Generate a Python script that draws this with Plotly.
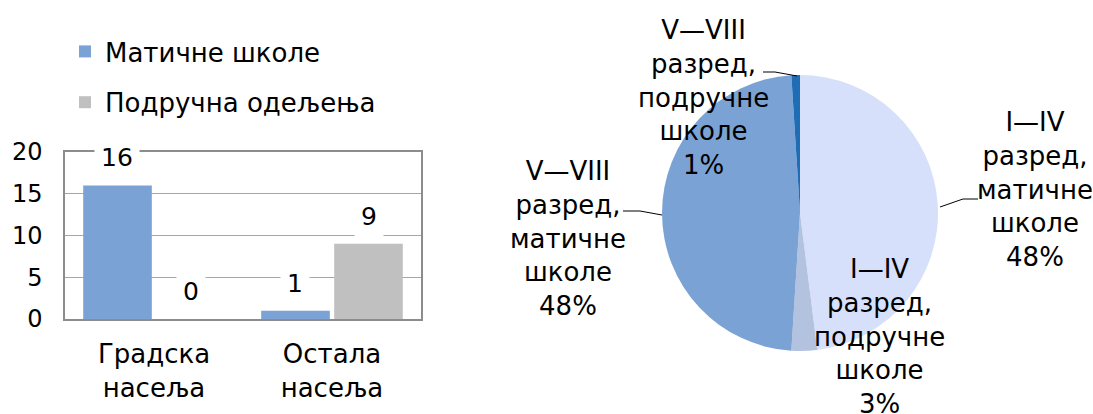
import plotly.graph_objects as go

# ---- bar chart data ----
categories = ["Градска<br>насеља", "Остала<br>насеља"]
series_names = ["Матичне школе", "Подручна одељења"]
maticne = [16, 1]
podrucna = [0, 9]
bar_colors = ["#7BA2D4", "#C0C0C0"]
y_ticks = [0, 5, 10, 15, 20]

# ---- pie chart data ----
pie_labels = ["I–IV разред, матичне школе", "I–IV разред, подручне школе",
              "V–VIII разред, матичне школе", "V–VIII разред, подручне школе"]
pie_values = [48, 3, 48, 1]
pie_colors = ["#D6E0FA", "#B3C3DF", "#7BA2D4", "#1F6DB4"]
pie_texts = ["I—IV<br>разред,<br>матичне<br>школе<br>48%",
             "I—IV<br>разред,<br>подручне<br>школе<br>3%",
             "V—VIII<br>разред,<br>матичне<br>школе<br>48%",
             "V—VIII<br>разред,<br>подручне<br>школе<br>1%"]

FONT = "DejaVu Sans, Liberation Sans, Arial, sans-serif"
FS = 26
W, H = 1093, 414

fig = go.Figure()
for name, vals, col, grp in zip(series_names, [maticne, podrucna], bar_colors, ["a", "b"]):
    fig.add_trace(go.Bar(x=categories, y=vals, name=name, marker_color=col,
                         marker_line_width=0, legendgroup=grp,
                         xaxis="x", yaxis="y"))

# data labels with white background (hide gridlines behind)
offsets = [-37, 37]
for vals, off in zip([maticne, podrucna], offsets):
    for c, v in zip(categories, vals):
        fig.add_annotation(x=c, y=v, xref="x", yref="y", text=str(v),
                           showarrow=False, xshift=off, yshift=6, yanchor="bottom",
                           bgcolor="white", borderpad=6,
                           font=dict(size=25, color="#000"))

fig.add_trace(go.Pie(labels=pie_labels, values=pie_values, sort=False,
                     direction="clockwise", rotation=0,
                     marker=dict(colors=pie_colors, line=dict(width=0)),
                     textinfo="none", hoverinfo="label+percent", showlegend=False,
                     automargin=False,
                     domain=dict(x=[662 / W, 938 / W], y=[1 - 351 / H, 1 - 75 / H])))

# pie labels (x center px, y of first-line centre px)
pie_label_pos = [(1035, 123), (880, 270), (568, 172), (703, 31)]
for t, (px, py) in zip(pie_texts, pie_label_pos):
    fig.add_annotation(x=px / W, y=1 - (py - 18) / H, xref="paper", yref="paper",
                       text=t, showarrow=False, xanchor="center", yanchor="top",
                       align="center", font=dict(size=FS, color="#000"))

# leader lines
leaders = [[(940, 207), (963, 199), (978, 199)],
           [(662, 215), (640, 211), (623, 211)],
           [(797, 76), (775, 72), (763, 72)]]
for pts in leaders:
    for (x0, y0), (x1, y1) in zip(pts[:-1], pts[1:]):
        fig.add_shape(type="line", xref="paper", yref="paper",
                      x0=x0 / W, y0=1 - y0 / H, x1=x1 / W, y1=1 - y1 / H,
                      line=dict(color="#000", width=1))

fig.update_layout(
    width=W, height=H, margin=dict(l=0, r=0, t=0, b=0, pad=0), autosize=False,
    paper_bgcolor="white", plot_bgcolor="white",
    font=dict(family=FONT, size=FS, color="#000"),
    barmode="group", bargap=0.18, bargroupgap=0.06,
    xaxis=dict(domain=[65 / W, 421 / W], showgrid=False, showline=True,
               linecolor="#8C8C8C", linewidth=1.5, mirror=True, ticks="",
               tickfont=dict(size=FS), ticklabelstandoff=11, automargin=False),
    yaxis=dict(domain=[1 - 319 / H, 1 - 152 / H], range=[0, 20],
               tickvals=y_ticks, showgrid=True, gridcolor="#A6A6A6", gridwidth=1.2,
               showline=True, linecolor="#8C8C8C", linewidth=1.5, mirror=True,
               ticks="", tickfont=dict(size=24), ticklabelstandoff=16, zeroline=False,
               automargin=False),
    legend=dict(x=65 / W, y=1 - 28 / H, xanchor="left", yanchor="top",
                font=dict(size=FS), traceorder="grouped", tracegroupgap=14,
                bgcolor="rgba(0,0,0,0)", itemwidth=30),
)

fig.write_html("out.html", config={"displayModeBar": False},
               post_script="document.body.style.margin='0';document.body.style.overflow='hidden';")
